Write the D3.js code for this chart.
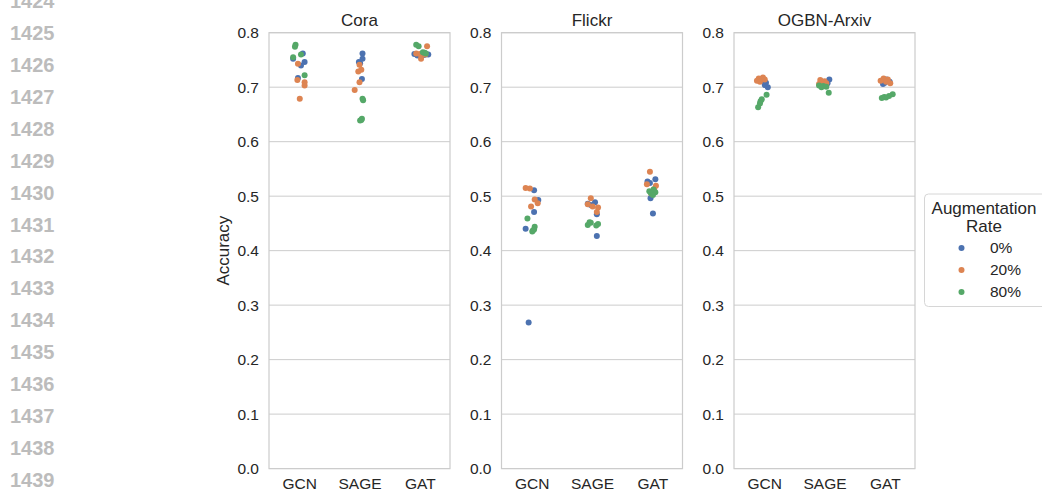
<!DOCTYPE html>
<html>
<head>
<meta charset="utf-8">
<script src="https://cdn.jsdelivr.net/npm/d3@7"></script>
<style>
  body { margin: 0; background: #fff; }
  svg text { font-family: "Liberation Sans", Arial, sans-serif; }
</style>
</head>
<body>
<svg id="chart" width="1042" height="494"></svg>
<script>
// Chart values
const datasets = ["Cora", "Flickr", "OGBN-Arxiv"];
const models = ["GCN", "SAGE", "GAT"];
const rates = ["0%", "20%", "80%"];
const yTicks = [0, 0.1, 0.2, 0.3, 0.4, 0.5, 0.6, 0.7, 0.8];
const lineNumbers = [1424, 1425, 1426, 1427, 1428, 1429, 1430, 1431, 1432, 1433, 1434, 1435, 1436, 1437, 1438, 1439];

// accuracy[model][rate] -> 5 runs
const coraAcc = [
  [[0.762, 0.752, 0.740, 0.746, 0.717], [0.743, 0.713, 0.709, 0.703, 0.679], [0.778, 0.774, 0.755, 0.760, 0.722]],
  [[0.762, 0.752, 0.746, 0.744, 0.715], [0.741, 0.732, 0.729, 0.709, 0.695], [0.679, 0.676, 0.642, 0.639, 0.640]],
  [[0.761, 0.760, 0.758, 0.759, 0.760], [0.775, 0.762, 0.761, 0.760, 0.752], [0.778, 0.775, 0.764, 0.763, 0.762]]
];
const flickrAcc = [
  [[0.511, 0.493, 0.471, 0.440, 0.268], [0.515, 0.514, 0.494, 0.487, 0.481], [0.459, 0.444, 0.439, 0.435, 0.437]],
  [[0.489, 0.486, 0.467, 0.427, 0.484], [0.496, 0.485, 0.481, 0.479, 0.471], [0.452, 0.447, 0.446, 0.449, 0.451]],
  [[0.531, 0.527, 0.524, 0.496, 0.468], [0.545, 0.522, 0.519, 0.513, 0.505], [0.512, 0.509, 0.507, 0.505, 0.502]]
];
const arxivAcc = [
  [[0.712, 0.710, 0.708, 0.704, 0.700], [0.718, 0.716, 0.714, 0.712, 0.710], [0.686, 0.678, 0.674, 0.670, 0.663]],
  [[0.714, 0.710, 0.707, 0.705, 0.704], [0.713, 0.711, 0.709, 0.707, 0.706], [0.703, 0.702, 0.701, 0.700, 0.690]],
  [[0.714, 0.712, 0.710, 0.708, 0.706], [0.716, 0.714, 0.712, 0.710, 0.707], [0.687, 0.684, 0.682, 0.681, 0.680]]
];

// strip jitter, in category units, same shape as the accuracy arrays
const coraJitter = [
  [[0.06, -0.10, 0.03, 0.09, -0.02], [-0.02, -0.03, 0.09, 0.09, 0.01], [-0.06, -0.07, -0.10, 0.03, 0.09]],
  [[0.05, 0.05, -0.01, 0.01, 0.04], [0.00, 0.03, -0.02, 0.00, -0.08], [0.05, 0.06, 0.04, 0.01, 0.03]],
  [[-0.09, 0.09, -0.04, 0.06, 0.14], [0.12, -0.06, 0.00, 0.09, 0.02], [-0.06, -0.02, 0.05, 0.08, 0.10]]
];
const flickrJitter = [
  [[0.04, 0.11, 0.04, -0.10, -0.05], [-0.10, -0.03, 0.05, 0.10, -0.01], [-0.07, 0.05, 0.04, 0.01, 0.02]],
  [[0.05, -0.07, 0.08, 0.08, -0.02], [-0.02, -0.07, 0.01, 0.10, 0.08], [-0.04, -0.07, 0.07, 0.10, -0.02]],
  [[0.05, -0.08, -0.04, -0.03, 0.01], [-0.04, -0.09, 0.06, 0.03, -0.02], [0.02, -0.05, 0.05, -0.02, 0.01]]
];
const arxivJitter = [
  [[-0.06, -0.01, 0.03, 0.01, 0.06], [-0.02, -0.09, 0.01, -0.12, -0.07], [0.04, -0.04, -0.06, -0.07, -0.10]],
  [[0.08, 0.03, 0.05, -0.05, 0.00], [-0.07, 0.00, -0.04, 0.03, -0.09], [-0.09, -0.02, 0.03, -0.05, 0.07]],
  [[0.03, -0.05, 0.08, 0.00, -0.03], [-0.02, 0.05, -0.07, 0.02, 0.09], [0.13, 0.07, -0.01, 0.02, -0.05]]
];

const colors = ["#4C72B0", "#DD8452", "#55A868"];
const textColor = "#262626";
const gridColor = "#cccccc";
const tickSize = 15.5, labelSize = 17;

const svg = d3.select("#chart");

// faint line numbers down the left margin
svg.append("g")
  .selectAll("text")
  .data(lineNumbers)
  .join("text")
  .attr("x", 10)
  .attr("y", (d, i) => 1 + i * 31.93)
  .attr("dy", "0.35em")
  .attr("font-size", 20)
  .attr("font-weight", "bold")
  .attr("fill", "#bcbcbc")
  .text(d => d);

const panelLefts = [269, 501.5, 734];
const panelWidth = 181;
const plotTop = 32.7, plotBottom = 468.6;
const allAcc = [coraAcc, flickrAcc, arxivAcc];
const allJitter = [coraJitter, flickrJitter, arxivJitter];

const y = d3.scaleLinear().domain([0, 0.8]).range([plotBottom, plotTop]);

datasets.forEach((name, p) => {
  const left = panelLefts[p];
  const x = d3.scaleLinear().domain([-0.5, 2.5]).range([left, left + panelWidth]);
  const g = svg.append("g");

  // horizontal grid
  g.selectAll(".grid")
    .data(yTicks)
    .join("line")
    .attr("x1", left).attr("x2", left + panelWidth)
    .attr("y1", d => y(d)).attr("y2", d => y(d))
    .attr("stroke", gridColor).attr("stroke-width", 1);

  // frame
  g.append("rect")
    .attr("x", left).attr("y", plotTop)
    .attr("width", panelWidth).attr("height", plotBottom - plotTop)
    .attr("fill", "none").attr("stroke", gridColor).attr("stroke-width", 1.2);

  // y tick labels
  const yAxis = d3.axisLeft(y).tickValues(yTicks).tickFormat(d3.format(".1f")).tickSize(0).tickPadding(10);
  const ya = g.append("g").attr("transform", `translate(${left},0)`).call(yAxis);
  ya.select(".domain").remove();
  ya.selectAll("text").attr("font-size", tickSize).attr("fill", textColor)
    .style("font-family", '"Liberation Sans", Arial, sans-serif');

  // x tick labels
  const xAxis = d3.axisBottom(x).tickValues([0, 1, 2]).tickFormat(i => models[i]).tickSize(0).tickPadding(9);
  const xa = g.append("g").attr("transform", `translate(0,${plotBottom})`).call(xAxis);
  xa.select(".domain").remove();
  xa.selectAll("text").attr("font-size", tickSize).attr("fill", textColor)
    .style("font-family", '"Liberation Sans", Arial, sans-serif');

  // title
  g.append("text")
    .attr("x", left + panelWidth / 2)
    .attr("y", 26)
    .attr("text-anchor", "middle")
    .attr("font-size", labelSize)
    .attr("fill", textColor)
    .text(name);

  // points: one hue level at a time, like seaborn stripplot
  const acc = allAcc[p], jit = allJitter[p];
  rates.forEach((rate, r) => {
    const pts = [];
    models.forEach((m, mi) => {
      acc[mi][r].forEach((v, k) => pts.push({ m: mi, v: v, j: jit[mi][r][k] }));
    });
    g.append("g")
      .selectAll("circle")
      .data(pts)
      .join("circle")
      .attr("cx", d => x(d.m + d.j))
      .attr("cy", d => y(d.v))
      .attr("r", 3)
      .attr("fill", colors[r]);
  });
});

// y label
svg.append("text")
  .attr("transform", `translate(223,${(plotTop + plotBottom) / 2}) rotate(-90)`)
  .attr("text-anchor", "middle")
  .attr("dominant-baseline", "central")
  .attr("font-size", labelSize)
  .attr("fill", textColor)
  .text("Accuracy");

// legend
const legend = svg.append("g");
legend.append("rect")
  .attr("x", 924.5).attr("y", 194)
  .attr("width", 130).attr("height", 112.5)
  .attr("rx", 4)
  .attr("fill", "#fff")
  .attr("stroke", "#d6d6d6").attr("stroke-width", 1);
legend.append("text").attr("x", 984).attr("y", 208).attr("dy", "0.35em")
  .attr("text-anchor", "middle").attr("font-size", labelSize).attr("fill", textColor).text("Augmentation");
legend.append("text").attr("x", 984).attr("y", 226).attr("dy", "0.35em")
  .attr("text-anchor", "middle").attr("font-size", labelSize).attr("fill", textColor).text("Rate");
rates.forEach((rate, r) => {
  const ly = 248 + r * 22;
  legend.append("circle").attr("cx", 961.5).attr("cy", ly).attr("r", 3).attr("fill", colors[r]);
  legend.append("text").attr("x", 990).attr("y", ly).attr("dy", "0.35em")
    .attr("font-size", tickSize).attr("fill", textColor).text(rate);
});
</script>
</body>
</html>
